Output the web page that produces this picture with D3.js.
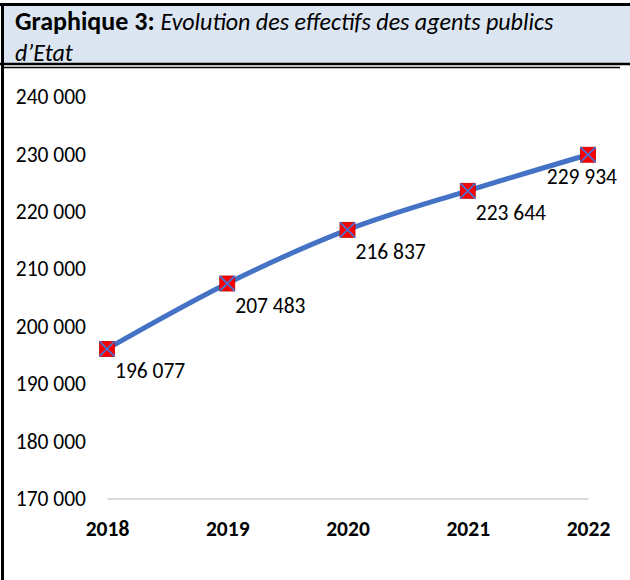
<!DOCTYPE html>
<html>
<head>
<meta charset="utf-8">
<script src="https://cdn.jsdelivr.net/npm/d3@7"></script>
<style>
  body { margin: 0; background: #fff; }
  svg { display: block; }
</style>
</head>
<body>
<svg id="chart"></svg>
<script>
// Graphique 3 - effectifs des agents publics d'Etat

let years = ['2018', '2019', '2020', '2021', '2022'];
let effectifs = [196077, 207483, 216837, 223644, 229934];
let yTicks = [170000, 180000, 190000, 200000, 210000, 220000, 230000, 240000];

let W = 630;
let H = 580;
let fontMain = 'Carlito, Calibri, "Liberation Sans", Arial, sans-serif';

let fmt = (v) => d3.format(',')(v).replace(/,/g, ' ');

let svg = d3.select('#chart')
  .attr('width', W)
  .attr('height', H);

// title box
svg.append('rect')
  .attr('x', 3).attr('y', 5)
  .attr('width', W - 3).attr('height', 59)
  .attr('fill', '#dce6f2');

svg.append('line')
  .attr('x1', 0).attr('x2', W).attr('y1', 4.5).attr('y2', 4.5)
  .attr('stroke', '#000').attr('stroke-width', 3);
svg.append('line')
  .attr('x1', 0).attr('x2', W).attr('y1', 64).attr('y2', 64)
  .attr('stroke', '#000').attr('stroke-width', 2.5);
svg.append('line')
  .attr('x1', 3).attr('x2', W - 10).attr('y1', 67.5).attr('y2', 67.5)
  .attr('stroke', '#000').attr('stroke-width', 1.5);
svg.append('line')
  .attr('x1', 2.5).attr('x2', 2.5).attr('y1', 3).attr('y2', H)
  .attr('stroke', '#000').attr('stroke-width', 3);

let title = svg.append('text')
  .attr('x', 15).attr('y', 30)
  .attr('font-family', fontMain)
  .attr('fill', '#000');
title.append('tspan').attr('font-weight', 'bold').attr('font-size', 26).text('Graphique 3: ');
title.append('tspan').attr('font-style', 'italic').attr('font-size', 24)
  .text('Evolution des effectifs des agents publics');
svg.append('text')
  .attr('x', 15).attr('y', 61)
  .attr('font-family', fontMain)
  .attr('font-size', 24)
  .attr('font-style', 'italic')
  .text('d\u2019Etat');

// scales
let xScale = d3.scalePoint()
  .domain(years)
  .range([107, 588]);

let yScale = d3.scaleLinear()
  .domain([170000, 240000])
  .range([498.5, 97]);

// y axis (labels only)
let yAxis = d3.axisLeft(yScale)
  .tickValues(yTicks)
  .tickSize(0)
  .tickPadding(0)
  .tickFormat(fmt);

let yAxisGroup = svg.append('g')
  .attr('transform', 'translate(86, 0)')
  .call(yAxis);
yAxisGroup.select('.domain').remove();
yAxisGroup.selectAll('text')
  .attr('font-family', fontMain)
  .attr('font-size', 21.5)
  .attr('fill', '#000');

// x axis
let xAxis = d3.axisBottom(xScale)
  .tickSize(0)
  .tickPadding(22);

let xAxisGroup = svg.append('g')
  .attr('transform', `translate(0, ${yScale(170000)})`)
  .call(xAxis);
xAxisGroup.select('.domain')
  .attr('stroke', '#d9d9d9')
  .attr('stroke-width', 2);
xAxisGroup.selectAll('text')
  .attr('font-family', fontMain)
  .attr('font-size', 21.5)
  .attr('font-weight', 'bold')
  .attr('fill', '#000');

// line
let line = d3.line()
  .x((d, i) => xScale(years[i]))
  .y((d) => yScale(d))
  .curve(d3.curveMonotoneX);

svg.append('path')
  .datum(effectifs)
  .attr('d', line)
  .attr('fill', 'none')
  .attr('stroke', '#4472c4')
  .attr('stroke-width', 5)
  .attr('stroke-linecap', 'round');

// markers
let ms = 7.5;
let markers = svg.selectAll('g.marker')
  .data(effectifs)
  .enter()
  .append('g')
  .attr('class', 'marker')
  .attr('transform', (d, i) => `translate(${xScale(years[i])}, ${yScale(d)})`);

markers.append('rect')
  .attr('x', -ms).attr('y', -ms)
  .attr('width', ms * 2).attr('height', ms * 2)
  .attr('fill', '#ff0000')
  .attr('stroke', '#c00000')
  .attr('stroke-width', 0.8);

markers.append('path')
  .attr('d', `M${-ms},${-ms}L${ms},${ms}M${ms},${-ms}L${-ms},${ms}`)
  .attr('stroke', '#4a6fd0')
  .attr('stroke-width', 1.8);

// data labels
let labels = svg.selectAll('text.lbl')
  .data(effectifs)
  .enter()
  .append('text')
  .attr('class', 'lbl')
  .attr('x', (d, i) => xScale(years[i]) + 8)
  .attr('y', (d) => yScale(d) + 29)
  .attr('font-family', fontMain)
  .attr('font-size', 21.5)
  .attr('fill', '#000')
  .text((d) => fmt(d));

// keep labels inside the chart on the right
labels.each(function() {
  let len = this.getComputedTextLength();
  let x = +d3.select(this).attr('x');
  if (x + len > W - 13) d3.select(this).attr('x', W - 13 - len);
});
</script>
</body>
</html>
